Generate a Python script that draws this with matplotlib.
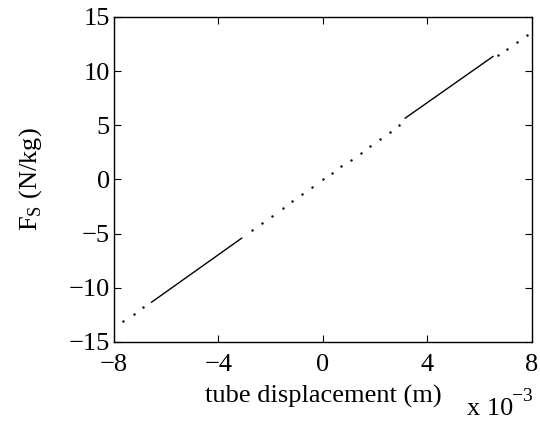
import matplotlib
matplotlib.use("Agg")
import matplotlib.pyplot as plt

plt.rcParams['font.family'] = ['Liberation Serif', 'DejaVu Serif']
plt.rcParams['mathtext.fontset'] = 'custom'
plt.rcParams['mathtext.rm'] = 'Liberation Serif'

# sparse sample points (x in 1e-3 m, F in N/kg)
dot_x = [-7.64, -7.25, -6.87, -2.72, -2.34, -1.96, -1.54, -1.17, -0.79, -0.41,
         0.0, 0.33, 0.70, 1.07, 1.44, 1.81, 2.18, 2.55, 2.92,
         6.69, 7.06, 7.44, 7.81]
dot_f = [-13.06, -12.40, -11.75, -4.65, -4.00, -3.35, -2.63, -2.00, -1.35, -0.70,
         0.0, 0.56, 1.20, 1.83, 2.46, 3.10, 3.73, 4.36, 4.99,
         11.44, 12.07, 12.72, 13.36]

# dense parts drawn as solid segments
seg1_x = [-6.56, -3.11]
seg1_f = [-11.34, -5.43]
seg2_x = [3.15, 6.51]
seg2_f = [5.65, 11.34]

xticks = [-8, -4, 0, 4, 8]
yticks = [-15, -10, -5, 0, 5, 10, 15]

fig = plt.figure(figsize=(5.4, 4.21), dpi=100)
ax = fig.add_axes([0.211, 0.188, 0.774, 0.772])

ax.plot([v * 1e-3 for v in seg1_x], seg1_f, color='k', lw=1.0)
ax.plot([v * 1e-3 for v in seg2_x], seg2_f, color='k', lw=1.0)
ax.plot([v * 1e-3 for v in dot_x], dot_f, ls='none', marker='.', ms=1.5, color='k')

ax.set_xlim(-8e-3, 8e-3)
ax.set_ylim(-15, 15)
ax.set_xticks([t * 1e-3 for t in xticks])
ax.set_xticklabels([str(t).replace('-', '\u2212') for t in xticks])
ax.set_yticks(yticks)
ax.set_yticklabels([str(t).replace('-', '\u2212') for t in yticks])
ax.tick_params(direction='in', top=True, right=True, length=5, width=0.8,
               labelsize=19)
ax.tick_params(axis='x', pad=9)
ax.tick_params(axis='y', pad=3)
for s in ax.spines.values():
    s.set_linewidth(1.0)

ax.set_xlabel('tube displacement (m)', fontsize=19, labelpad=6)
ax.set_ylabel(r'F$_\mathrm{S}$ (N/kg)', fontsize=19, labelpad=18)

# axis multiplier, MATLAB style
fig.text(0.864, 0.014, 'x 10', fontsize=19, ha='left', va='baseline')
fig.text(0.949, 0.048, '\u22123', fontsize=14, ha='left', va='baseline')

fig.savefig('out.png', dpi=100)
